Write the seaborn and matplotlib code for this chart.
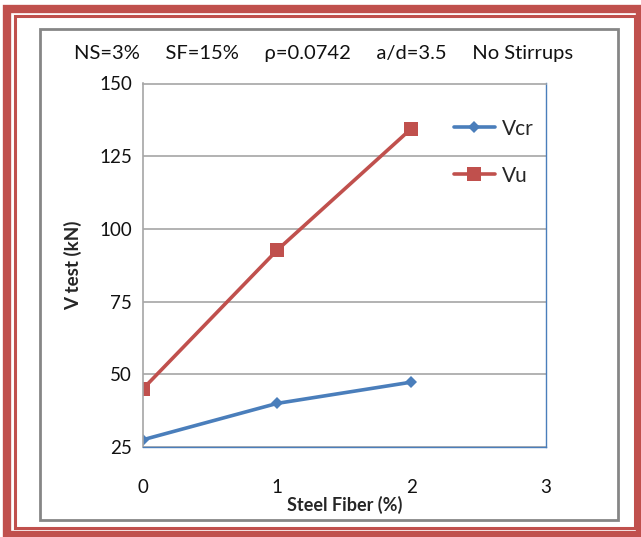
import matplotlib
matplotlib.use("Agg")
import matplotlib.pyplot as plt
import seaborn as sns
import pandas as pd
from matplotlib.patches import Rectangle

steel_fiber = [0, 1, 2]
vcr = [27.5, 40, 47.3]
vu = [45, 92.7, 134.5]
series_names = ["Vcr", "Vu"]
yticks = [25, 50, 75, 100, 125, 150]
xticks = [0, 1, 2, 3]
header = "NS=3%     SF=15%     \u03c1=0.0742     a/d=3.5     No Stirrups"

df = pd.DataFrame({
    "x": steel_fiber * 2,
    "y": vcr + vu,
    "s": [series_names[0]] * 3 + [series_names[1]] * 3,
})

sns.set_theme(style="white")
plt.rcParams["font.family"] = ["Lato", "DejaVu Sans"]

W, H = 641, 537
fig = plt.figure(figsize=(W / 100, H / 100), dpi=100)

def px(x0, y0, x1, y1):
    return [x0 / W, 1 - y1 / H, (x1 - x0) / W, (y1 - y0) / H]

# borders
red = "#C0504D"
fig.patches.append(Rectangle((7 / W, 1 - 535 / H), (640 - 7) / W, (535 - 9) / H,
                             transform=fig.transFigure, fill=False, ec=red, lw=6, zorder=0))
fig.patches.append(Rectangle((15 / W, 1 - 528 / H), (635 - 15) / W, (528 - 16) / H,
                             transform=fig.transFigure, fill=False, ec=red, lw=2.2, zorder=0))
fig.patches.append(Rectangle((39.5 / W, 1 - 519.5 / H), (617.5 - 39.5) / W, (519.5 - 28.5) / H,
                             transform=fig.transFigure, fill=False, ec="#868686", lw=2, zorder=0))

ax = fig.add_axes(px(143, 83.5, 545.5, 447))
blue = "#4A7EBB"
sns.lineplot(data=df, x="x", y="y", hue="s", style="s",
             palette={"Vcr": blue, "Vu": red},
             markers={"Vcr": "D", "Vu": "s"},
             dashes=False, lw=2.6, ax=ax, markeredgewidth=0)
for line in ax.lines:
    if matplotlib.colors.to_hex(line.get_color()).lower() == red.lower():
        line.set_markersize(10)
    else:
        line.set_markersize(6)

ax.set_xlim(0, 3)
ax.set_ylim(25, 150)
ax.set_xticks(xticks)
ax.set_yticks(yticks)
ax.set_xticklabels([str(t) for t in xticks], fontsize=13.5, color="#111111")
ax.set_yticklabels([str(t) for t in yticks], fontsize=13.5, color="#111111")
ax.tick_params(axis="x", length=0, pad=23)
ax.tick_params(axis="y", length=0, pad=8)
ax.grid(axis="y", color="#A6A6A6", lw=1.2)
ax.grid(axis="x", visible=False)
for side, c in [("left", "#A6A6A6"), ("top", "#A6A6A6"), ("bottom", blue), ("right", blue)]:
    ax.spines[side].set_visible(True)
    ax.spines[side].set_color(c)
    ax.spines[side].set_linewidth(1.2)
ax.spines["bottom"].set_linewidth(1.0)
ax.spines["right"].set_linewidth(1.0)

ax.set_xlabel("Steel Fiber (%)", fontsize=13, fontweight="bold", labelpad=0)
ax.set_ylabel("V test (kN)", fontsize=13.5, fontweight="bold", labelpad=12)

leg = ax.legend(loc="upper left", bbox_to_anchor=(0.725, 0.955), frameon=False,
                fontsize=15, handlelength=2.0, handletextpad=0.3, labelspacing=1.3)

fig.text(324 / W, 1 - 53 / H, header, fontsize=14.5, ha="center", va="center", color="#111111")

fig.savefig("out.png", dpi=100, facecolor="white")
